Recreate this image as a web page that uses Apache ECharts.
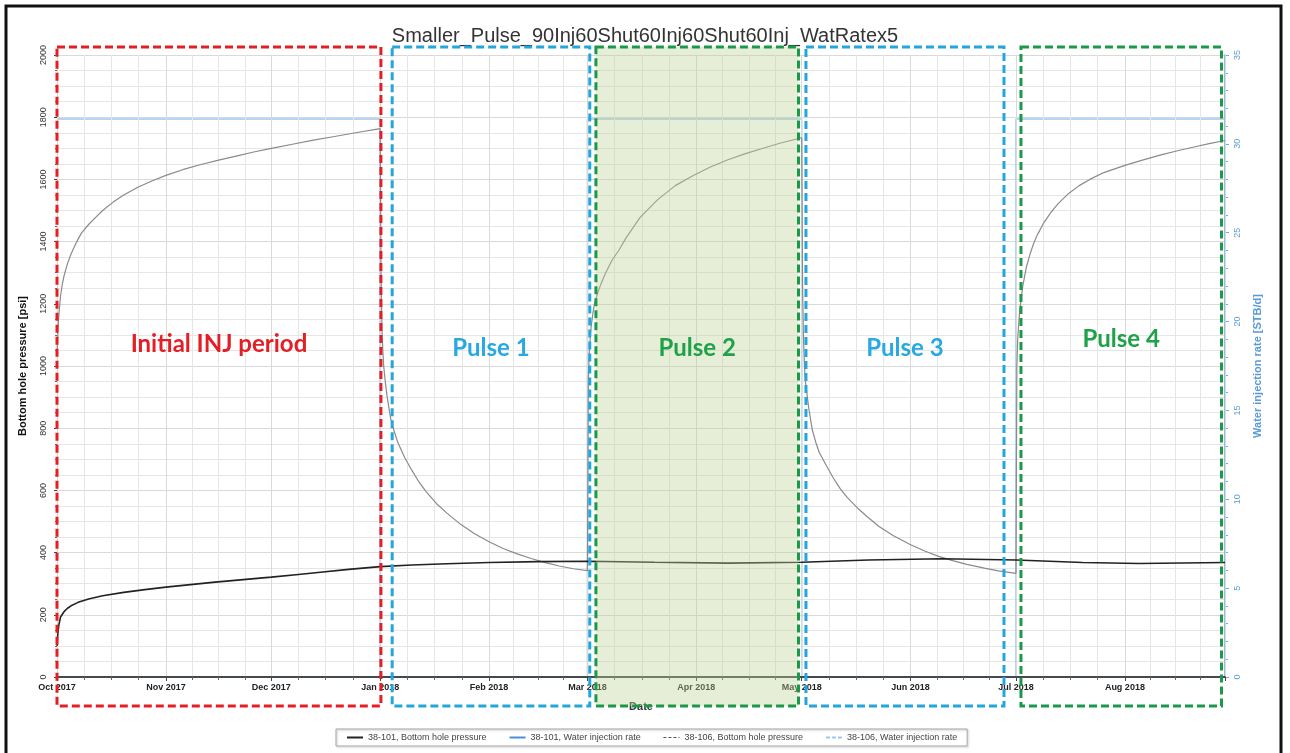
<!DOCTYPE html>
<html>
<head>
<meta charset="utf-8">
<script src="https://cdn.jsdelivr.net/npm/echarts@6/dist/echarts.min.js"></script>
<style>
html,body{margin:0;padding:0;background:#fff;}
#c{width:1290px;height:753px;}
</style>
</head>
<body>
<div id="c"></div>
<script>
// ---------------- DATA ----------------
const chartTitle = 'Smaller_Pulse_90Inj60Shut60Inj60Shut60Inj_WatRatex5';
const seriesNames = ['38-101, Bottom hole pressure', '38-101, Water injection rate', '38-106, Bottom hole pressure', '38-106, Water injection rate'];

// 38-106 bottom hole pressure [psi]
const bhp106Dates = [
  '2017-10-01 00:00','2017-10-01 06:00','2017-10-01 12:00','2017-10-02','2017-10-02 12:00','2017-10-03','2017-10-04','2017-10-05','2017-10-06','2017-10-07','2017-10-08','2017-10-10','2017-10-12','2017-10-14','2017-10-17','2017-10-20','2017-10-24','2017-10-28','2017-11-01','2017-11-06','2017-11-11','2017-11-16','2017-11-21','2017-11-26','2017-12-01','2017-12-07','2017-12-13','2017-12-19','2017-12-25','2018-01-01',
  '2018-01-01 06:00','2018-01-01 12:00','2018-01-01 18:00','2018-01-02','2018-01-02 12:00','2018-01-03','2018-01-04','2018-01-05','2018-01-06','2018-01-08','2018-01-10','2018-01-12','2018-01-14','2018-01-17','2018-01-20','2018-01-24','2018-01-28','2018-02-01','2018-02-05','2018-02-09','2018-02-13','2018-02-17','2018-02-21','2018-02-25','2018-03-01',
  '2018-03-01 06:00','2018-03-01 12:00','2018-03-02','2018-03-02 12:00','2018-03-03','2018-03-04','2018-03-05','2018-03-06','2018-03-08','2018-03-10','2018-03-12','2018-03-16','2018-03-21','2018-03-26','2018-03-31','2018-04-05','2018-04-10','2018-04-15','2018-04-20','2018-04-25','2018-05-01',
  '2018-05-01 06:00','2018-05-01 12:00','2018-05-01 18:00','2018-05-02','2018-05-03','2018-05-04','2018-05-05','2018-05-06','2018-05-08','2018-05-10','2018-05-12','2018-05-14','2018-05-17','2018-05-20','2018-05-23','2018-05-27','2018-06-01','2018-06-05','2018-06-09','2018-06-13','2018-06-17','2018-06-22','2018-06-26','2018-07-01',
  '2018-07-01 06:00','2018-07-01 12:00','2018-07-02','2018-07-02 12:00','2018-07-03','2018-07-04','2018-07-05','2018-07-06','2018-07-07','2018-07-09','2018-07-11','2018-07-13','2018-07-16','2018-07-19','2018-07-22','2018-07-26','2018-08-01','2018-08-06','2018-08-11','2018-08-16','2018-08-21','2018-08-25','2018-08-29 12:00'
];
const bhp106Values = [
  1040,1110,1160,1225,1262,1290,1330,1360,1385,1408,1428,1455,1478,1500,1527,1550,1575,1595,1613,1632,1648,1662,1675,1688,1700,1713,1726,1738,1750,1763,
  1300,1120,1050,1000,945,900,830,790,755,705,665,628,597,558,527,490,460,435,413,396,381,368,357,348,342,
  950,1040,1120,1165,1200,1238,1268,1295,1340,1373,1412,1478,1535,1580,1612,1640,1663,1683,1700,1717,1734,
  1250,1090,1010,955,865,795,755,722,680,640,605,577,542,512,484,455,425,405,388,374,362,350,341,333,
  1000,1090,1170,1220,1262,1320,1360,1393,1420,1462,1495,1522,1555,1580,1600,1622,1645,1662,1678,1692,1705,1715,1725
];

// 38-101 bottom hole pressure [psi]
const bhp101Dates = ['2017-10-01 00:00','2017-10-01 06:00','2017-10-01 12:00','2017-10-02','2017-10-03','2017-10-04','2017-10-05','2017-10-07','2017-10-10','2017-10-14','2017-10-20','2017-10-26','2017-11-01','2017-11-08','2017-11-15','2017-11-23','2017-12-01','2017-12-08','2017-12-15','2017-12-23','2018-01-01','2018-01-10','2018-01-20','2018-02-01','2018-02-15','2018-03-01','2018-03-20','2018-04-10','2018-05-01','2018-05-20','2018-06-10','2018-07-01','2018-07-20','2018-08-05','2018-08-29 12:00'];
const bhp101Values = [100,140,165,193,210,221,229,240,251,261,272,281,289,297,305,313,321,329,337,346,355,360,364,368,371,372,369,366,369,376,380,376,368,365,368];

// water injection rates [STB/d]
const rate106Dates = ['2017-10-01','2018-01-01','2018-03-01','2018-05-01','2018-07-01','2018-08-29 12:00'];
const rate106Values = [31.4, 0, 31.4, 0, 31.4, 31.4];
const rate101Dates = ['2017-10-01','2018-08-29 12:00'];
const rate101Values = [0, 0];

// axis ranges
const xStart = '2017-10-01';
const xEnd = '2018-08-29 12:00';
const leftMax = 2000, leftInterval = 200;
const rightMax = 35, rightInterval = 5;

// annotation boxes (period outlines) and labels
const boxFrom   = ['2017-10-01 00:00','2018-01-04 10:00','2018-03-03 10:00','2018-05-02 05:00','2018-07-02 10:00'];
const boxTo     = ['2018-01-01 05:00','2018-03-01 16:00','2018-04-30 02:00','2018-06-27 14:00','2018-08-28 12:00'];
const boxLabels = ['Initial INJ period','Pulse 1','Pulse 2','Pulse 3','Pulse 4'];
const boxLabelPsi = [1069, 1056, 1056, 1056, 1085];
const boxColors = ['#e31e24','#22a6dd','#1a9a48','#22a6dd','#1a9a48'];
const textColors = ['#e31e24','#29a9e1','#1fa14a','#29a9e1','#1fa14a'];
const boxFilled = [false,false,true,false,false];

// ---------------- HELPERS ----------------
function t(s){
  const m = s.match(/(\d+)-(\d+)-(\d+)(?:\s+(\d+):(\d+))?/);
  return new Date(+m[1], +m[2]-1, +m[3], m[4]?+m[4]:0, m[5]?+m[5]:0).getTime();
}
function pairs(ds, vs){ return ds.map((d,i)=>[t(d), vs[i]]); }

const chart = echarts.init(document.getElementById('c'));
const option = {
  backgroundColor:'#fff',
  animation:false,
  title:{
    text: chartTitle, left:'center', top:21,
    textStyle:{fontFamily:'Liberation Sans, Arial', fontSize:20, fontWeight:'normal', color:'#333'}
  },
  legend:{
    left:336, top:729, padding:[4,10], itemGap:22, itemWidth:16, itemHeight:8,
    borderColor:'#a6a6a6', borderWidth:1,
    shadowColor:'rgba(0,0,0,0.25)', shadowBlur:2, shadowOffsetX:1, shadowOffsetY:1,
    itemStyle:{opacity:0},
    textStyle:{fontFamily:'Liberation Sans, Arial', fontSize:9, color:'#444'},
    data:[
      {name:seriesNames[0]},
      {name:seriesNames[1]},
      {name:seriesNames[2], lineStyle:{type:[3,2], width:1.2, color:'#555'}},
      {name:seriesNames[3], lineStyle:{type:[4,2]}}
    ]
  },
  grid:{left:57, right:65, top:55, bottom:76, containLabel:false},
  xAxis:{
    type:'time', min:t(xStart), max:t(xEnd), z:3,
    minInterval:28*86400000, maxInterval:31*86400000,
    name:'Date', nameLocation:'middle', nameGap:24,
    nameTextStyle:{fontFamily:'Liberation Sans, Arial', fontSize:11, fontWeight:'bold', color:'#333'},
    axisLine:{show:true, onZero:false, lineStyle:{color:'#222', width:1.5}},
    axisTick:{show:true, length:4, lineStyle:{color:'#444'}},
    minorTick:{show:true, splitNumber:4, length:3, lineStyle:{color:'#666'}},
    axisLabel:{formatter:'{MMM} {yyyy}', margin:6, fontFamily:'Liberation Sans, Arial', fontSize:9, fontWeight:'bold', color:'#222', hideOverlap:false},
    splitLine:{show:true, lineStyle:{color:'#d9d9d9', width:1}},
    minorSplitLine:{show:true, lineStyle:{color:'#e6e6e6', width:1}}
  },
  yAxis:[
    {
      type:'value', min:0, max:leftMax, interval:leftInterval, position:'left',
      name:'Bottom hole pressure [psi]', nameLocation:'middle', nameGap:29, nameRotate:90,
      nameTextStyle:{fontFamily:'Liberation Sans, Arial', fontSize:11, fontWeight:'bold', color:'#111'},
      axisLine:{show:true, lineStyle:{color:'#222'}},
      axisTick:{show:true, length:3, lineStyle:{color:'#444'}},
      minorTick:{show:true, splitNumber:4, length:2, lineStyle:{color:'#666'}},
      axisLabel:{rotate:90, margin:9, formatter:(v)=>String(v), fontFamily:'Liberation Sans, Arial', fontSize:9, color:'#333'},
      splitLine:{show:true, lineStyle:{color:'#d9d9d9'}},
      minorSplitLine:{show:true, lineStyle:{color:'#e6e6e6'}}
    },
    {
      type:'value', min:0, max:rightMax, interval:rightInterval, position:'right',
      name:'Water injection rate [STB/d]', nameLocation:'middle', nameGap:27, nameRotate:90,
      nameTextStyle:{fontFamily:'Liberation Sans, Arial', fontSize:11, fontWeight:'bold', color:'#5b9bd5'},
      axisLine:{show:true, lineStyle:{color:'#6fa8dc', width:1.5}},
      axisTick:{show:true, length:4, lineStyle:{color:'#6fa8dc'}},
      minorTick:{show:true, splitNumber:5, length:3, lineStyle:{color:'#6fa8dc'}},
      axisLabel:{rotate:90, margin:8, formatter:(v)=>String(v), fontFamily:'Liberation Sans, Arial', fontSize:9, color:'#5b9bd5'},
      splitLine:{show:false}
    }
  ],
  series:[
    {name:seriesNames[0], type:'line', yAxisIndex:0, symbol:'none', data:pairs(bhp101Dates,bhp101Values),
     lineStyle:{color:'#222', width:1.6}, itemStyle:{color:'#222'}, z:5},
    {name:seriesNames[1], type:'line', yAxisIndex:1, symbol:'none', data:pairs(rate101Dates,rate101Values),
     lineStyle:{color:'#4a90d9', width:1.2}, itemStyle:{color:'#4a90d9'}, z:1},
    {name:seriesNames[2], type:'line', yAxisIndex:0, symbol:'none', data:pairs(bhp106Dates,bhp106Values),
     lineStyle:{color:'#8a8a8a', width:1.2}, itemStyle:{color:'#555'}, z:4},
    {name:seriesNames[3], type:'line', yAxisIndex:1, symbol:'none', step:'end', data:pairs(rate106Dates,rate106Values),
     lineStyle:{color:'#9ec8ef', width:1.5}, itemStyle:{color:'#9ec8ef'}, z:2}
  ]
};
chart.setOption(option);

// annotation graphics anchored to the axes
function buildGraphics(){
  const rect = chart.getModel().getComponent('grid',0).coordinateSystem.getRect();
  const top = rect.y - 8, bottom = rect.y + rect.height + 29;
  const els = [];
  boxFrom.forEach((f,i)=>{
    const x0 = chart.convertToPixel({xAxisIndex:0, yAxisIndex:0}, [t(f), 0])[0];
    const x1 = chart.convertToPixel({xAxisIndex:0, yAxisIndex:0}, [t(boxTo[i]), 0])[0];
    els.push({type:'rect', z:50, shape:{x:x0, y:top, width:x1-x0, height:bottom-top},
      style:{fill: boxFilled[i] ? 'rgba(190,210,150,0.38)' : 'none', stroke:boxColors[i], lineWidth:3, lineDash:[8,4]}});
    const ty = chart.convertToPixel({xAxisIndex:0, yAxisIndex:0}, [t(f), boxLabelPsi[i]])[1];
    els.push({type:'text', z:60, x:(x0+x1)/2, y:ty,
      style:{text:boxLabels[i], fill:textColors[i], font:'bold 24px Lato, "Open Sans", sans-serif', align:'center', verticalAlign:'middle'}});
  });
  els.push({type:'rect', z:70, shape:{x:6, y:6, width:1275, height:800}, style:{fill:'none', stroke:'#111', lineWidth:3}});
  chart.setOption({graphic:{elements:els}});
}
buildGraphics();
</script>
</body>
</html>
